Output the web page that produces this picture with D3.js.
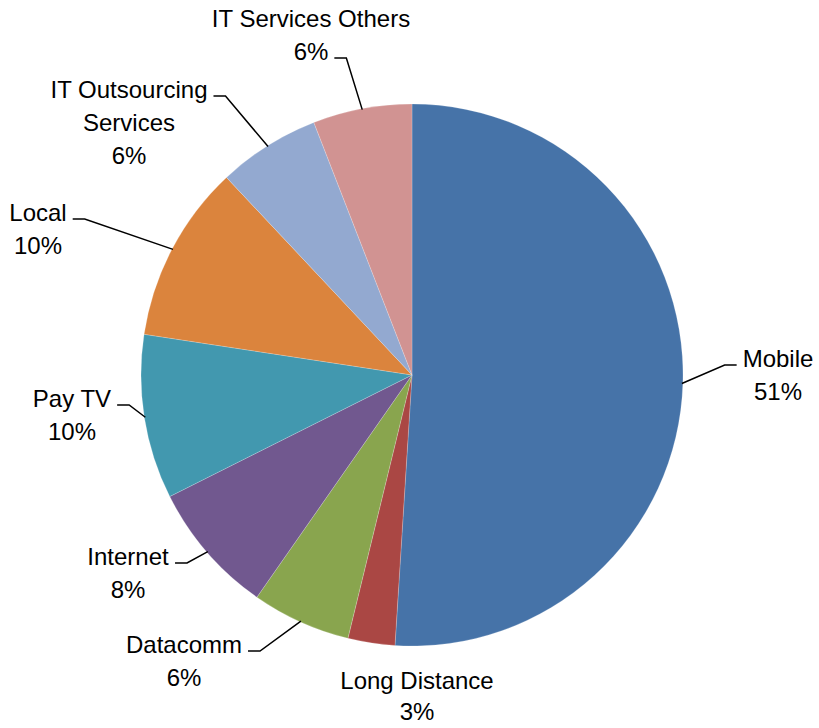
<!DOCTYPE html>
<meta charset="utf-8">
<script src="https://d3js.org/d3.v7.min.js"></script>
<style>
  body { margin: 0; background: #fff; }
  text { font-family: "Liberation Sans", Arial, sans-serif; font-size: 24px; fill: #000; }
</style>
<body>
<svg id="pie" width="819" height="728"></svg>
<script>
// chart data
var categories = ["Mobile", "Long Distance", "Datacomm", "Internet", "Pay TV", "Local", "IT Outsourcing Services", "IT Services Others"];
var shares = [51, 2.8, 5.9, 7.9, 9.8, 10.6, 6.1, 5.9];
var percentLabels = ["51%", "3%", "6%", "8%", "10%", "10%", "6%", "6%"];
var labelLines = [["Mobile"], ["Long Distance"], ["Datacomm"], ["Internet"], ["Pay TV"], ["Local"], ["IT Outsourcing", "Services"], ["IT Services Others"]];
var colors = ["#4673A8", "#AA4744", "#89A54E", "#71588F", "#4298AF", "#DB843D", "#93A9D0", "#D19392"];

// label placement (centre x, first baseline y, side the leader joins, which line it joins)
var labelPos = [
  {x: 778, y: 367, side: "left", line: 0},
  {x: 417, y: 689, side: null, line: 0},
  {x: 184, y: 653, side: "right", line: 0},
  {x: 128, y: 565, side: "right", line: 0},
  {x: 72, y: 407, side: "right", line: 0},
  {x: 38, y: 221, side: "right", line: 0},
  {x: 129, y: 98, side: "right", line: 0},
  {x: 311, y: 27, side: "right", line: 1}
];

var cx = 412, cy = 375, radius = 271, lineH = 33;

var svg = d3.select("#pie");
var g = svg.append("g").attr("transform", "translate(" + cx + "," + cy + ")");

var pie = d3.pie().sort(null).value(function(d) { return d; });
var arcs = pie(shares);
var arc = d3.arc().innerRadius(0).outerRadius(radius);

g.selectAll("path.slice")
  .data(arcs)
  .enter().append("path")
  .attr("class", "slice")
  .attr("d", arc)
  .attr("fill", function(d, i) { return colors[i]; })
  .attr("stroke", "#fff")
  .attr("stroke-opacity", 0.5)
  .attr("stroke-width", 0.4);

// labels
var labels = svg.selectAll("g.lbl")
  .data(arcs)
  .enter().append("g")
  .attr("class", "lbl");

labels.each(function(d, i) {
  var lg = d3.select(this);
  var p = labelPos[i];
  var lines = labelLines[i].concat([percentLabels[i]]);
  var gap = p.side ? lineH : 31;
  var texts = [];
  lines.forEach(function(t, k) {
    var tx = lg.append("text")
      .attr("x", p.x)
      .attr("y", p.y + k * gap)
      .attr("text-anchor", "middle")
      .text(t);
    texts.push(tx);
  });
  if (!p.side) return;
  var bb = texts[p.line].node().getBBox();
  var ly = p.y + p.line * lineH - 2;
  var mid = (d.startAngle + d.endAngle) / 2;
  var ax = cx + Math.sin(mid) * (radius - 1);
  var ay = cy - Math.cos(mid) * (radius - 1);
  var x0, x1;
  if (p.side === "left") {
    x0 = bb.x - 6; x1 = x0 - 12;
  } else {
    x0 = bb.x + bb.width + 6; x1 = x0 + 12;
  }
  svg.append("path")
    .attr("d", d3.line()([[x0, ly], [x1, ly], [ax, ay]]))
    .attr("fill", "none")
    .attr("stroke", "#000")
    .attr("stroke-width", 1.5);
});
</script>
</body>
